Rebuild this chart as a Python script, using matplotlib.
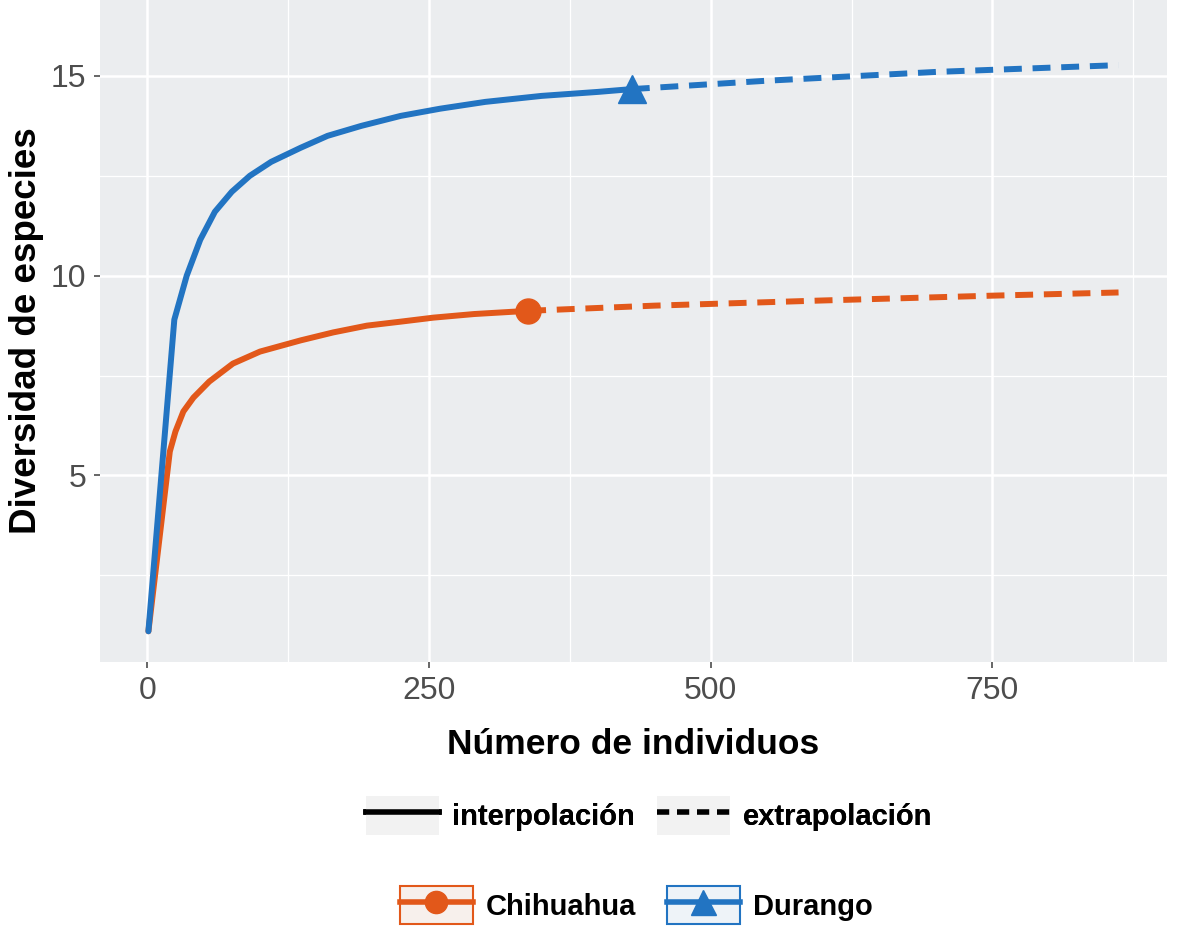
import matplotlib
matplotlib.use("Agg")
import matplotlib.pyplot as plt
from matplotlib.lines import Line2D
from matplotlib.patches import Rectangle
from matplotlib.legend_handler import HandlerLine2D

plt.rcParams['font.family'] = ['Liberation Sans', 'DejaVu Sans']

# rarefaction (interpolation) curves
chi_x = [1, 20, 25, 32, 41, 55, 76, 100, 136, 165, 195, 225, 254, 290, 338]
chi_y = [1.1, 5.6, 6.1, 6.6, 6.95, 7.35, 7.8, 8.1, 8.38, 8.58, 8.75, 8.85, 8.95, 9.04, 9.12]
dur_x = [1, 24, 35, 47, 60, 75, 91, 110, 136, 160, 190, 225, 260, 300, 350, 400, 430]
dur_y = [1.1, 8.9, 10.0, 10.9, 11.6, 12.1, 12.5, 12.85, 13.2, 13.5, 13.75, 14.0,
         14.18, 14.35, 14.5, 14.6, 14.67]

# extrapolation up to double the sample size
chi_ext_x = [338, 450, 600, 750, 862]
chi_ext_y = [9.12, 9.25, 9.38, 9.5, 9.58]
dur_ext_x = [430, 550, 700, 862]
dur_ext_y = [14.67, 14.88, 15.1, 15.27]

orange = '#E2581A'
blue = '#2274C2'
dash = (3, 1.8)


class BoxedLine(HandlerLine2D):
    def __init__(self, edge, face, **kw):
        super().__init__(**kw)
        self.edge = edge
        self.face = face

    def create_artists(self, legend, orig_handle, xdescent, ydescent,
                       width, height, fontsize, trans):
        box = Rectangle((-xdescent, -ydescent - 2), width, height + 4,
                        facecolor=self.face, edgecolor=self.edge, lw=1.5,
                        transform=trans)
        arts = super().create_artists(legend, orig_handle, xdescent, ydescent,
                                      width, height, fontsize, trans)
        return [box] + arts


fig = plt.figure(figsize=(12, 9.38), dpi=100)
ax = fig.add_axes([0.0833, 0.2942, 0.8892, 0.7058])
ax.set_facecolor('#EBEDEF')
for s in ax.spines.values():
    s.set_visible(False)

ax.plot(chi_x, chi_y, color=orange, lw=4.3, solid_capstyle='round', solid_joinstyle='round')
ax.plot(chi_ext_x, chi_ext_y, color=orange, lw=4.3, dashes=dash)
ax.plot(dur_x, dur_y, color=blue, lw=4.3, solid_capstyle='round', solid_joinstyle='round')
ax.plot(dur_ext_x, dur_ext_y, color=blue, lw=4.3, dashes=dash)
ax.plot(chi_x[-1], chi_y[-1], 'o', color=orange, ms=18)
ax.plot(dur_x[-1], dur_y[-1], '^', color=blue, ms=20)

ax.set_xlim(-42, 905)
ax.set_ylim(0.33, 16.9)
ax.set_xticks([0, 250, 500, 750])
ax.set_xticks([125, 375, 625, 875], minor=True)
ax.set_yticks([5, 10, 15])
ax.set_yticks([2.5, 7.5, 12.5], minor=True)
ax.grid(which='major', color='white', lw=1.8)
ax.grid(which='minor', color='white', lw=0.9)
ax.set_axisbelow(True)
ax.tick_params(which='major', labelsize=23, labelcolor='#4D4D4D', color='#4D4D4D',
               length=4, width=1.2, pad=6)
ax.tick_params(which='minor', length=0)

ax.set_xlabel('Número de individuos', fontsize=25.5, fontweight='bold', labelpad=16)
ax.set_ylabel('Diversidad de especies', fontsize=26.5, fontweight='bold', labelpad=5)

# linetype legend
lt_handles = [Line2D([], [], color='black', lw=4),
              Line2D([], [], color='black', lw=4, dashes=(2.2, 1.4))]
leg1 = fig.legend(lt_handles, ['interpolación', 'extrapolación'],
                  loc='center', bbox_to_anchor=(0.541, 0.131), ncol=2, frameon=False,
                  prop={'size': 21, 'weight': 'bold'}, handlelength=2.5,
                  handleheight=1.4, columnspacing=0.75, handletextpad=0.45,
                  handler_map={h: BoxedLine('none', '#F2F2F2') for h in lt_handles})
fig.add_artist(leg1)

# site legend
site_handles = [Line2D([], [], color=orange, lw=4, marker='o', ms=16),
                Line2D([], [], color=blue, lw=4, marker='^', ms=18)]
fig.legend(site_handles, ['Chihuahua', 'Durango'],
           loc='center', bbox_to_anchor=(0.530, 0.035), ncol=2, frameon=False,
           prop={'size': 21, 'weight': 'bold'}, handlelength=2.5,
           handleheight=1.3, columnspacing=1.05, handletextpad=0.45,
           handler_map={site_handles[0]: BoxedLine(orange, '#F7F0EC', numpoints=1),
                        site_handles[1]: BoxedLine(blue, '#EEF3F8', numpoints=1)})

fig.savefig('out.png', dpi=100)
